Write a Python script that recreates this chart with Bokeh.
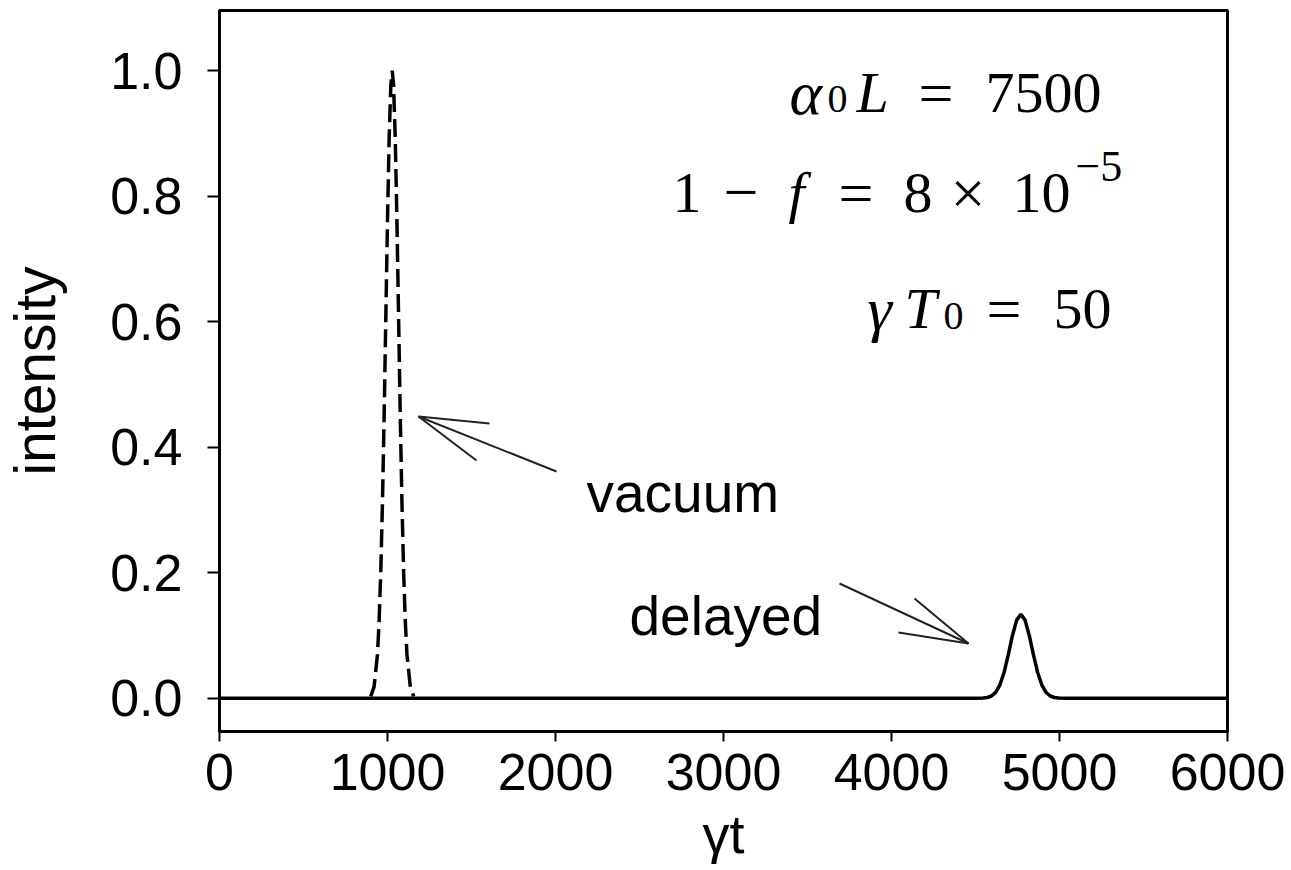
from bokeh.plotting import figure
from bokeh.models import Range1d, FixedTicker, Label, Arrow
from bokeh.embed import file_html
from bokeh.resources import INLINE

# ---- data ----
x_ticks = [0, 1000, 2000, 3000, 4000, 5000, 6000]
y_ticks = [0.0, 0.2, 0.4, 0.6, 0.8, 1.0]
y_tick_labels = ["0.0", "0.2", "0.4", "0.6", "0.8", "1.0"]

vacuum_t = [900, 920, 940, 950, 960, 970, 980, 990, 1000, 1010, 1020, 1028,
            1036, 1046, 1056, 1066, 1076, 1086, 1096, 1106, 1116, 1136, 1156]
vacuum_i = [0.003, 0.018, 0.069, 0.122, 0.202, 0.312, 0.450, 0.607, 0.762, 0.894, 0.978, 1.0,
            0.978, 0.894, 0.762, 0.607, 0.450, 0.312, 0.202, 0.122, 0.069, 0.018, 0.003]

delayed_t = [0, 4500, 4545, 4570, 4595, 4620, 4645, 4670, 4695, 4720, 4745, 4770,
             4795, 4820, 4845, 4870, 4895, 4920, 4945, 4970, 4995, 5040, 6000]
delayed_i = [0.0, 0.0, 0.0003, 0.0012, 0.0036, 0.0094, 0.021, 0.041, 0.069, 0.100, 0.1245, 0.134,
             0.1245, 0.100, 0.069, 0.041, 0.021, 0.0094, 0.0036, 0.0012, 0.0003, 0.0, 0.0]

X0, X1 = 0, 6000
Y0, Y1 = -0.053, 1.096
FRAME_L, FRAME_T, FRAME_W, FRAME_H = 218, 10, 1008, 721


def X(px):
    return X0 + (px - FRAME_L) * (X1 - X0) / FRAME_W


def Y(py):
    return Y1 - (py - FRAME_T) * (Y1 - Y0) / FRAME_H


p = figure(frame_width=FRAME_W, frame_height=FRAME_H,
           x_range=Range1d(X0, X1), y_range=Range1d(Y0, Y1),
           output_backend="svg", toolbar_location=None,
           min_border_left=FRAME_L, min_border_top=FRAME_T, min_border_right=60, min_border_bottom=110)
p.background_fill_color = "white"
p.border_fill_color = "white"
p.outline_line_color = "black"
p.outline_line_width = 3
p.grid.visible = False

for ax in (p.xaxis[0], p.yaxis[0]):
    ax.axis_line_width = 3
    ax.axis_line_color = "black"
    ax.major_tick_in = 0
    ax.minor_tick_out = 0
    ax.minor_tick_in = 0
    ax.major_tick_line_width = 2
    ax.major_tick_line_color = "black"
    ax.major_label_text_font = "Liberation Sans"
    ax.major_label_text_font_size = "52px"
    ax.major_label_text_color = "black"
    ax.axis_label_text_font = "Liberation Sans"
    ax.axis_label_text_font_style = "normal"
    ax.axis_label_text_color = "black"

p.xaxis.axis_label_text_font_size = "54px"
p.yaxis.axis_label_text_font_size = "57px"
p.xaxis.ticker = FixedTicker(ticks=x_ticks)
p.yaxis.ticker = FixedTicker(ticks=y_ticks)
p.yaxis.major_label_overrides = {t: s for t, s in zip(y_ticks, y_tick_labels)}
p.xaxis.major_tick_out = 10
p.yaxis.major_tick_out = 12
p.xaxis.major_label_standoff = 12
p.yaxis.major_label_standoff = 25
p.xaxis.axis_label = "γt"
p.yaxis.axis_label = "intensity"
p.xaxis.axis_label_standoff = 11
p.yaxis.axis_label_standoff = 40

p.line(delayed_t, delayed_i, line_color="black", line_width=3.5)
p.line(vacuum_t, vacuum_i, line_color="black", line_width=3.5, line_dash="18 7")

# arrows (screen pixel positions converted to data)
arrow_segments = [
    ((555, 471), (417, 416)), ((417, 416), (488, 423)), ((417, 416), (475, 460)),
    ((838, 583), (967, 643)), ((967, 643), (913, 598)), ((967, 643), (897, 632)),
]
for (a, b) in arrow_segments:
    p.add_layout(Arrow(end=None, x_start=X(a[0]), y_start=Y(a[1]), x_end=X(b[0]), y_end=Y(b[1]),
                       line_color="#222222", line_width=2))

for txt, lx, by in (("vacuum", 585, 492), ("delayed", 628, 615)):
    p.add_layout(Label(x=X(lx), y=Y(by), text=txt, text_font="Liberation Sans",
                       text_font_size="55px", text_color="black",
                       text_baseline="alphabetic", text_align="left"))

# parameter annotations (math-like text)
pieces = [
    ("α", "italic", 62, 788, 92), ("0", "normal", 40, 826, 98), ("L", "italic", 58, 855, 92),
    ("=", "normal", 62, 917, 92), ("7500", "normal", 58, 984, 92),
    ("1", "normal", 58, 671, 192), ("−", "normal", 62, 722, 192), ("f", "italic", 58, 787, 192),
    ("=", "normal", 62, 837, 192), ("8", "normal", 58, 902, 192), ("×", "normal", 62, 949, 192),
    ("10", "normal", 58, 1011, 192), ("−5", "normal", 44, 1074, 166),
    ("γ", "italic", 62, 866, 308), ("T", "italic", 58, 903, 308), ("0", "normal", 40, 942, 315),
    ("=", "normal", 62, 985, 308), ("50", "normal", 58, 1052, 308),
]
for txt, style, size, lx, by in pieces:
    p.add_layout(Label(x=X(lx), y=Y(by), text=txt, text_font="Liberation Serif",
                       text_font_style=style, text_font_size=f"{size}px", text_color="black",
                       text_baseline="alphabetic", text_align="left"))

open("out.html", "w").write(file_html(p, INLINE))
